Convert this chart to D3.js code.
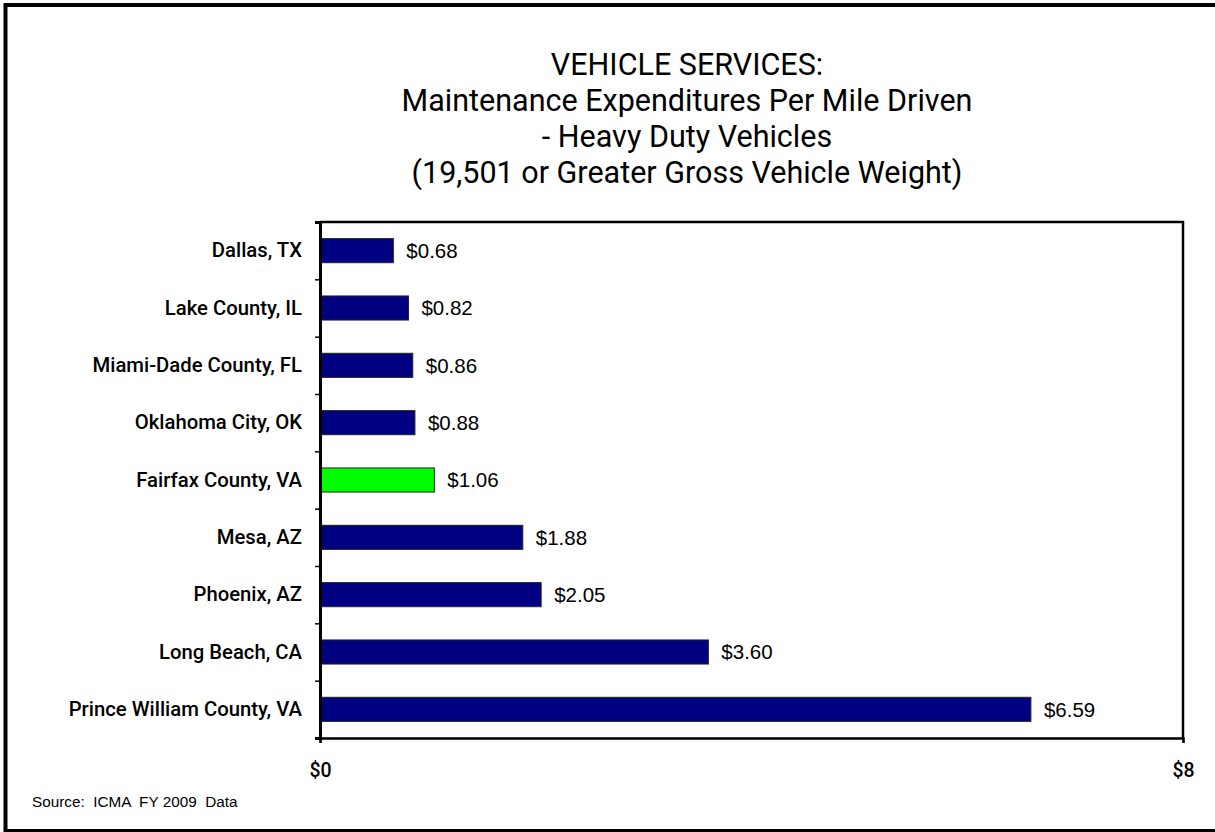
<!DOCTYPE html>
<html>
<head>
<meta charset="utf-8">
<script src="https://cdn.jsdelivr.net/npm/d3@7"></script>
<style>
  html, body { margin: 0; padding: 0; background: #fff; }
  svg { display: block; }
</style>
</head>
<body>
<svg id="chart" width="1215" height="832"></svg>
<script>
const categories = ["Dallas, TX", "Lake County, IL", "Miami-Dade County, FL", "Oklahoma City, OK",
  "Fairfax County, VA", "Mesa, AZ", "Phoenix, AZ", "Long Beach, CA", "Prince William County, VA"];
const values = [0.68, 0.82, 0.86, 0.88, 1.06, 1.88, 2.05, 3.60, 6.59];
const highlight = ["Fairfax County, VA"];
const xTicks = [0, 8];
const titleLines = ["VEHICLE SERVICES:", "Maintenance Expenditures Per Mile Driven",
  "- Heavy Duty Vehicles", "(19,501 or Greater Gross Vehicle Weight)"];
const sourceText = "Source:  ICMA  FY 2009  Data";

const svg = d3.select("#chart");
const pLeft = 320, pRight = 1183, pTop = 222, pBottom = 738;

// outer frame
svg.append("rect").attr("x", 5.5).attr("y", 5).attr("width", 1230).attr("height", 826)
  .attr("fill", "none").attr("stroke", "#000").attr("stroke-width", 4);

// title
const title = svg.append("text").attr("text-anchor", "middle")
  .style("font-family", "Roboto, 'Liberation Sans', sans-serif").style("font-size", "30.5px")
  .style("font-weight", "400").attr("fill", "#000");
titleLines.forEach((t, i) => {
  title.append("tspan").attr("x", 687).attr("y", 75 + i * 36).text(t);
});

const x = d3.scaleLinear().domain([0, 8]).range([pLeft, pRight]);
const y = d3.scaleBand().domain(categories).range([pTop, pBottom]).paddingInner(0.58).paddingOuter(0.29);
const yIdx = d3.scaleLinear().domain([0, categories.length]).range([pTop, pBottom]);

// bars
svg.append("g").selectAll("rect").data(categories).join("rect")
  .attr("x", x(0))
  .attr("y", d => y(d))
  .attr("width", (d, i) => x(values[i]) - x(0))
  .attr("height", y.bandwidth())
  .attr("fill", d => highlight.includes(d) ? "#00FF00" : "#000080")
  .attr("stroke", "#222").attr("stroke-width", 1);

// value labels
svg.append("g").selectAll("text").data(categories).join("text")
  .attr("x", (d, i) => x(values[i]) + 13)
  .attr("y", d => y(d) + y.bandwidth() / 2)
  .attr("dy", "0.36em")
  .style("font-family", "'Liberation Sans', Arial, sans-serif").style("font-size", "20.5px")
  .attr("fill", "#000")
  .text((d, i) => "$" + values[i].toFixed(2));

// plot frame (top & right)
svg.append("path").attr("d", `M${pLeft},${pTop}H${pRight}V${pBottom}`)
  .attr("fill", "none").attr("stroke", "#000").attr("stroke-width", 2.5);

// left tick marks at band boundaries
const yTickAxis = svg.append("g").attr("transform", `translate(${pLeft},0)`)
  .call(d3.axisLeft(yIdx).tickValues(d3.range(categories.length + 1)).tickSize(5).tickFormat(""));
yTickAxis.select(".domain").attr("stroke", "#000").attr("stroke-width", 3);
yTickAxis.selectAll(".tick line").attr("stroke", "#000").attr("stroke-width", 1.5);

// category labels
const yLab = svg.append("g").attr("transform", `translate(${pLeft},0)`)
  .call(d3.axisLeft(y).tickSize(0).tickPadding(18));
yLab.select(".domain").remove();
yLab.selectAll("text").style("font-family", "Roboto, 'Liberation Sans', sans-serif")
  .style("font-size", "20.3px").style("font-weight", "500").attr("fill", "#000");

// x axis
const xAxis = svg.append("g").attr("transform", `translate(0,${pBottom})`)
  .call(d3.axisBottom(x).tickValues(xTicks).tickSize(5).tickPadding(20).tickFormat(d => "$" + d));
xAxis.select(".domain").attr("stroke", "#000").attr("stroke-width", 2.5);
xAxis.selectAll(".tick line").attr("stroke", "#000").attr("stroke-width", 1.5);
xAxis.selectAll("text").style("font-family", "Roboto, 'Liberation Sans', sans-serif")
  .style("font-size", "19.5px").style("font-weight", "500").attr("fill", "#000");

// source
svg.append("text").attr("x", 32).attr("y", 807)
  .style("font-family", "'Liberation Sans', Arial, sans-serif").style("font-size", "15.3px")
  .style("white-space", "pre").attr("fill", "#000").text(sourceText);
</script>
</body>
</html>
